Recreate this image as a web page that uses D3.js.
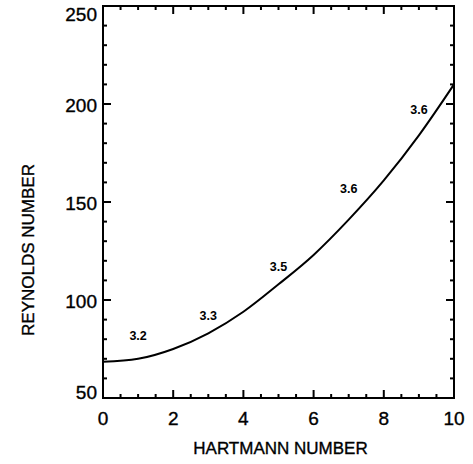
<!DOCTYPE html>
<html><head><meta charset="utf-8">
<script src="https://cdn.jsdelivr.net/npm/d3@7"></script>
<style>body{margin:0;background:#fff;}svg{display:block;}</style>
</head><body><svg id="c" width="473" height="464"></svg>
<script>
const hartmann = [0,1,2,3,4,5,6,7,8,9,10];
const reynolds = [68.5,70,75,83,94,108,123,141,161,184,210];
const labelX = [1,3,5,7,9];
const labelY = [82,92,117,157,197];
const labelText = ["3.2","3.3","3.5","3.6","3.6"];
const xTicks = [0,2,4,6,8,10];
const yTicks = [50,100,150,200,250];

const svg = d3.select("#c");
const L=103,R=454,T=6,B=398;
const x = d3.scaleLinear().domain([0,10]).range([L,R]);
const y = d3.scaleLinear().domain([50,250]).range([B,T]);
const font = "'Liberation Sans', Arial, sans-serif";

// ticks (inward, all four sides)
const g = svg.append("g").attr("stroke","#000").attr("stroke-width",2);
d3.range(0,10.01,0.5).forEach(v=>{
  const major = Math.abs(v%2)<1e-6;
  const len = major?8:4;
  if(v>0 && v<10){
    g.append("line").attr("x1",x(v)).attr("x2",x(v)).attr("y1",B).attr("y2",B-len);
    g.append("line").attr("x1",x(v)).attr("x2",x(v)).attr("y1",T).attr("y2",T+len);
  }
});
d3.range(50,250.01,10).forEach(v=>{
  const major = Math.abs(v%50)<1e-6;
  const len = major?8:4;
  if(v>50 && v<250){
    g.append("line").attr("y1",y(v)).attr("y2",y(v)).attr("x1",L).attr("x2",L+len);
    g.append("line").attr("y1",y(v)).attr("y2",y(v)).attr("x1",R).attr("x2",R-len);
  }
});
svg.append("rect").attr("x",L).attr("y",T).attr("width",R-L).attr("height",B-T)
  .attr("fill","none").attr("stroke","#000").attr("stroke-width",2);

const heavy = sel => sel.attr("stroke","#000").attr("stroke-width",0.35).attr("fill","#000");

// tick labels
svg.append("g").selectAll("text").data(xTicks).join("text")
  .attr("x",d=>x(d)).attr("y",425).attr("text-anchor","middle")
  .attr("font-family",font).attr("font-size",19).text(d=>d).call(heavy);
svg.append("g").selectAll("text").data(yTicks).join("text")
  .attr("x",97).attr("y",d=>Math.min(Math.max(y(d)+1,14),392)).attr("dy","0.36em")
  .attr("text-anchor","end").attr("font-family",font).attr("font-size",19).text(d=>d).call(heavy);

// titles
svg.append("text").attr("x",(L+R)/2+2).attr("y",454).attr("text-anchor","middle")
  .attr("font-family",font).attr("font-size",17).text("HARTMANN NUMBER").call(heavy);
svg.append("text").attr("transform","translate(34,250) rotate(-90)").attr("text-anchor","middle")
  .attr("font-family",font).attr("font-size",17).text("REYNOLDS NUMBER").call(heavy);

// curve
const line = d3.line().x((d,i)=>x(hartmann[i])).y(d=>y(d)).curve(d3.curveMonotoneX);
svg.append("path").datum(reynolds).attr("d",line).attr("fill","none")
  .attr("stroke","#000").attr("stroke-width",2);

// labels
svg.append("g").selectAll("text").data(labelText).join("text")
  .attr("x",(d,i)=>x(labelX[i])).attr("y",(d,i)=>y(labelY[i])).attr("dy","0.35em")
  .attr("text-anchor","middle").attr("font-family",font).attr("font-weight","bold")
  .attr("font-size",12.5).text(d=>d);
</script></body></html>
